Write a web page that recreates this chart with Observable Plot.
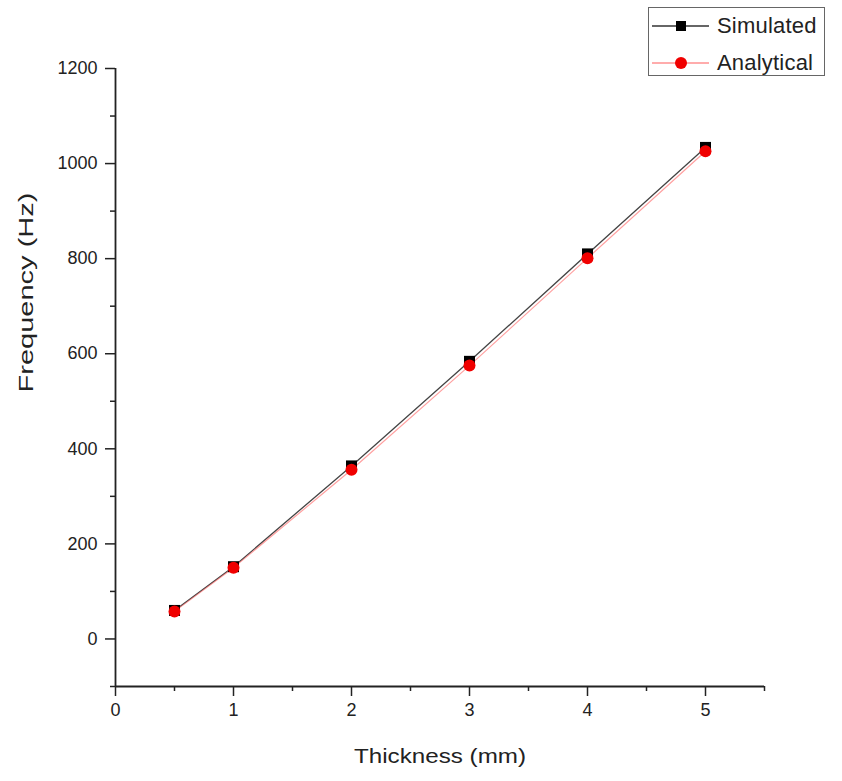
<!DOCTYPE html>
<html><head><meta charset="utf-8">
<script src="https://cdn.jsdelivr.net/npm/d3@7"></script>
<script src="https://cdn.jsdelivr.net/npm/@observablehq/plot@0.6"></script>
<style>
body{margin:0;background:#fff;font-family:"Liberation Sans",Arial,sans-serif;}
#wrap{position:relative;width:842px;height:781px;}
#legend{position:absolute;left:648px;top:7px;width:177px;height:69px;border:1px solid #666;background:#fff;box-sizing:border-box;}
#legend .row{position:absolute;left:0;height:30px;display:flex;align-items:center;}
#legend .row span{font-size:22px;color:#222;margin-left:6px;letter-spacing:0.2px;}
</style></head><body><div id="wrap"></div>
<script>
const thickness = [0.5, 1, 2, 3, 4, 5];
const simulated = [60, 152, 364, 584, 810, 1034];
const analytical = [58, 150, 356, 575, 801, 1026];
const xTicks = [0, 1, 2, 3, 4, 5];
const xMinor = [0.5, 1.5, 2.5, 3.5, 4.5, 5.5];
const yTicks = [0, 200, 400, 600, 800, 1000, 1200];
const yMinor = [-100, 100, 300, 500, 700, 900, 1100];
const seriesNames = ["Simulated", "Analytical"];
const xLabel = "Thickness (mm)";
const yLabel = "Frequency (Hz)";

const sim = thickness.map((t, i) => ({t, f: simulated[i]}));
const ana = thickness.map((t, i) => ({t, f: analytical[i]}));

const chart = Plot.plot({
  width: 842, height: 781,
  marginLeft: 115, marginRight: 78, marginTop: 68, marginBottom: 95,
  x: {domain: [0, 5.5]},
  y: {domain: [-100, 1200]},
  style: {fontFamily: "'Liberation Sans', Arial, sans-serif", fontSize: "18px", color: "#222", background: "#fff"},
  marks: [
    Plot.axisX({ticks: xMinor, tickSize: 5, tickFormat: () => "", label: null, stroke: "#222", strokeWidth: 1.5}),
    Plot.axisX({ticks: xTicks, tickSize: 10, tickPadding: 7, fontSize: 18, tickFormat: d => String(d), label: null, stroke: "#222", strokeWidth: 1.5}),
    Plot.axisY({ticks: yMinor, tickSize: 5, tickFormat: () => "", label: null, stroke: "#222", strokeWidth: 1.5}),
    Plot.axisY({ticks: yTicks, tickSize: 10, tickPadding: 8, fontSize: 18, tickFormat: d => String(d), label: null, stroke: "#222", strokeWidth: 1.5}),
    Plot.ruleX([0], {y1: -100, y2: 1200, stroke: "#222", strokeWidth: 1.8}),
    Plot.ruleY([-100], {x1: 0, x2: 5.5, stroke: "#222", strokeWidth: 1.8}),
    Plot.text([xLabel], {frameAnchor: "bottom", dy: 76, fontSize: 21, fill: "#222", className: "xlab"}),
    Plot.text([yLabel], {frameAnchor: "left", rotate: -90, dx: -89, dy: 15, fontSize: 21, fill: "#222", className: "ylab"}),
    Plot.line(sim, {x: "t", y: "f", stroke: "#444", strokeWidth: 1.3}),
    Plot.line(ana, {x: "t", y: "f", stroke: "#ff6060", strokeWidth: 1.2, strokeOpacity: 0.6}),
    Plot.dot(sim, {x: "t", y: "f", symbol: "square", r: 6.2, fill: "#000"}),
    Plot.dot(ana, {x: "t", y: "f", r: 6, fill: "#f00000"})
  ]
});
d3.select(chart).selectAll(".xlab text").attr("textLength", 172).attr("lengthAdjust", "spacingAndGlyphs");
d3.select(chart).selectAll(".ylab text").attr("textLength", 200).attr("lengthAdjust", "spacingAndGlyphs");
const wrap = document.getElementById("wrap");
wrap.appendChild(chart);

const legend = document.createElement("div");
legend.id = "legend";
const styles = [
  {stroke: "#333", fill: "#000", symbol: "square"},
  {stroke: "#ff9090", fill: "#f00000", symbol: "circle"}
];
seriesNames.forEach((name, i) => {
  const row = document.createElement("div");
  row.className = "row";
  row.style.top = (i === 0 ? 3 : 40) + "px";
  const s = styles[i];
  const mark = s.symbol === "square"
    ? `<rect x="27" y="10" width="10" height="10" fill="${s.fill}"/>`
    : `<circle cx="32" cy="15" r="6" fill="${s.fill}"/>`;
  row.innerHTML = `<svg width="62" height="30"><line x1="3" x2="60" y1="15" y2="15" stroke="${s.stroke}" stroke-width="1.3"/>${mark}</svg><span>${name}</span>`;
  legend.appendChild(row);
});
wrap.appendChild(legend);
</script>
</body></html>
